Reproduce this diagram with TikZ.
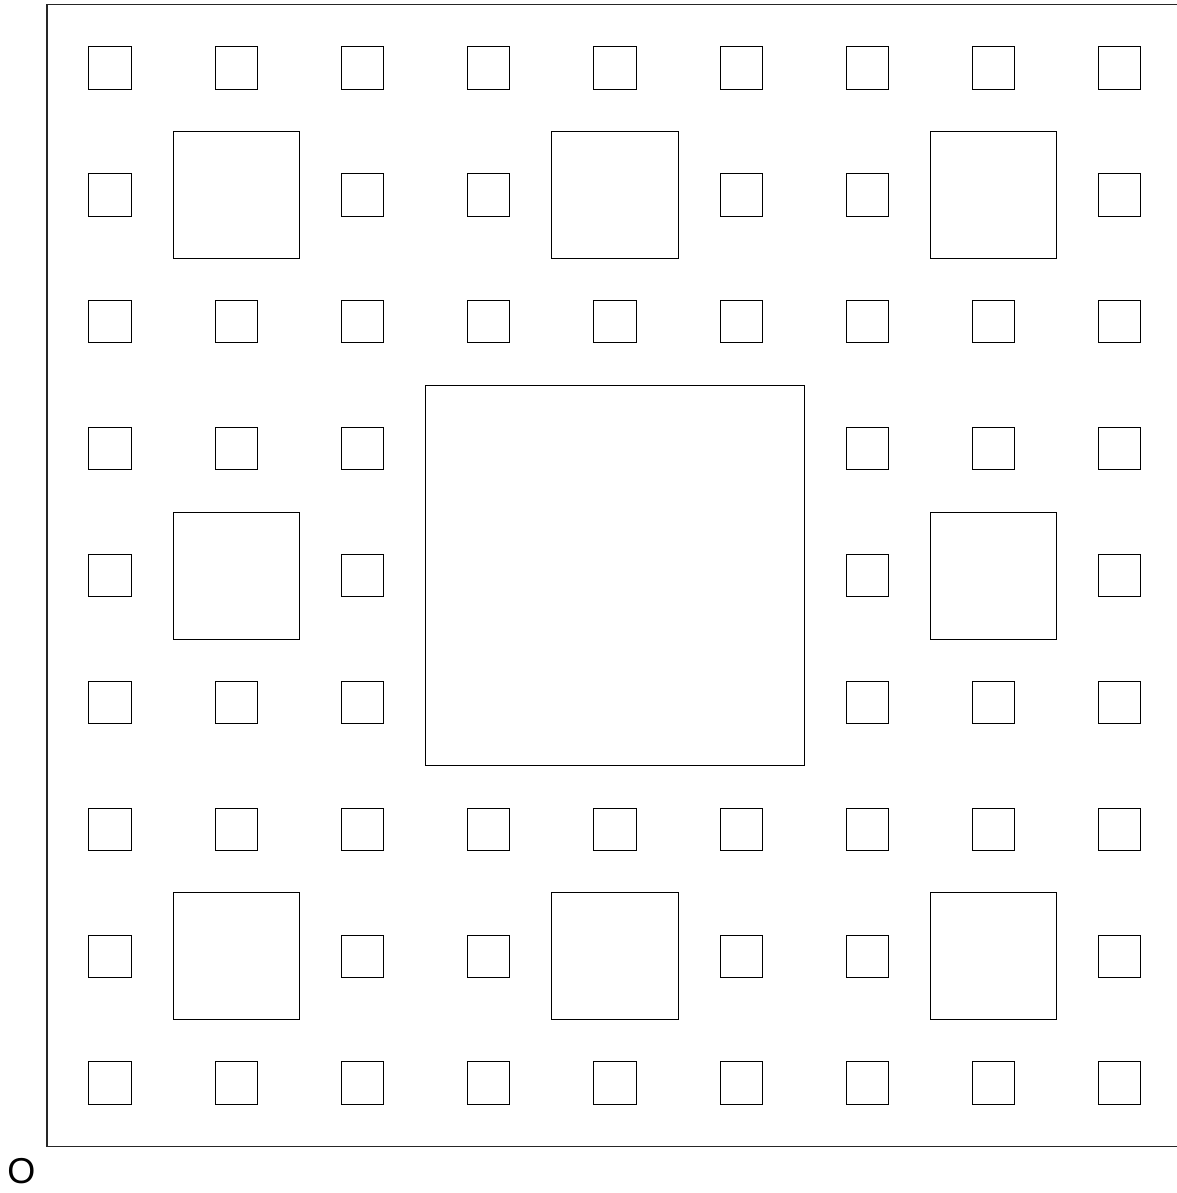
\documentclass[tikz,border=0pt]{standalone}
\usepackage{fontspec}
\setmainfont{Liberation Sans}
\begin{document}
\begin{tikzpicture}[x=1pt,y=1pt,
  sq/.style={draw=black,line width=1pt},
  outer/.style={draw=black!85,line width=1.3pt}]
\useasboundingbox (0,0) rectangle (1176,1193);
\def\ox{46.9}\def\oy{46.5}\def\cx{42.08}\def\cy{42.29}
% outer square
\draw[outer] (\ox,\oy) rectangle ({\ox+27*\cx},{\oy+27*\cy});
% level 1
\draw[sq] ({\ox+9*\cx},{\oy+9*\cy}) rectangle ({\ox+18*\cx},{\oy+18*\cy});
% level 2
\foreach \i in {0,1,2}{\foreach \j in {0,1,2}{
  \pgfmathtruncatemacro\skipit{(\i==1)&&(\j==1)?1:0}
  \ifnum\skipit=0
    \draw[sq] ({\ox+(9*\i+3)*\cx},{\oy+(9*\j+3)*\cy}) rectangle ({\ox+(9*\i+6)*\cx},{\oy+(9*\j+6)*\cy});
  \fi
}}
% level 3
\foreach \i in {0,...,8}{\foreach \j in {0,...,8}{
  \pgfmathtruncatemacro\ha{(mod(\i,3)==1)&&(mod(\j,3)==1)?1:0}
  \pgfmathtruncatemacro\hb{(\i>2)&&(\i<6)&&(\j>2)&&(\j<6)?1:0}
  \pgfmathtruncatemacro\skipit{\ha+\hb}
  \ifnum\skipit=0
    \draw[sq] ({\ox+(3*\i+1)*\cx},{\oy+(3*\j+1)*\cy}) rectangle ({\ox+(3*\i+2)*\cx},{\oy+(3*\j+2)*\cy});
  \fi
}}
\node[font=\fontsize{36}{40}\selectfont,inner sep=0pt] (o) at (21.5,22) {O};
\end{tikzpicture}
\end{document}
